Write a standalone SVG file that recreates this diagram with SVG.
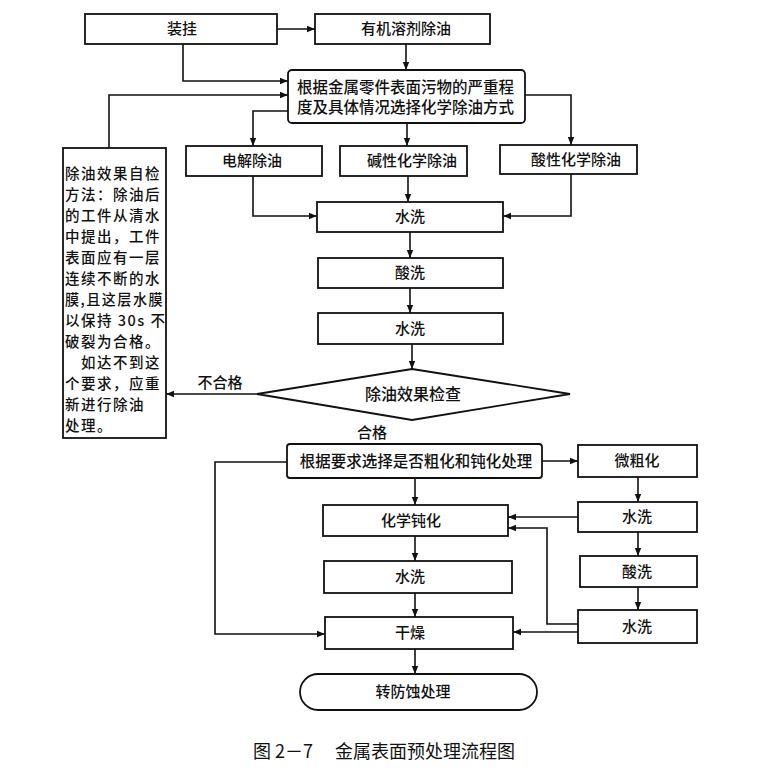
<svg xmlns="http://www.w3.org/2000/svg" width="764" height="770" viewBox="0 0 764 770">
<style>
  .box { fill: #fff; stroke: #111; stroke-width: 1.8; }
  .ln { fill: none; stroke: #111; stroke-width: 1.6; }
  .t { font-family: "Noto Sans CJK SC", "Noto Sans", sans-serif; font-size: 15px; font-weight: 500; fill: #111; text-anchor: middle; }
  .tl { font-family: "Noto Sans CJK SC", "Noto Sans", sans-serif; font-size: 15.5px; font-weight: 500; fill: #111; }
  .note { font-family: "Noto Sans CJK SC", "Noto Sans", sans-serif; font-size: 14.5px; letter-spacing: 1.5px; font-weight: 500; fill: #111; }
  .cap { font-family: "Noto Sans CJK SC", "Noto Sans", sans-serif; font-size: 18px; fill: #111; }
</style>
<defs>
  <marker id="ah" viewBox="0 0 10 10" refX="10" refY="5" markerWidth="8" markerHeight="8" markerUnits="userSpaceOnUse" orient="auto">
    <path d="M0,1 L10,5 L0,9 Z" fill="#111"/>
  </marker>
</defs>
<rect width="764" height="770" fill="#fff"/>

<g id="connectors">
  <path class="ln" marker-end="url(#ah)" d="M277,29 H315"/>
  <path class="ln" marker-end="url(#ah)" d="M183,44 V81 H288"/>
  <path class="ln" marker-end="url(#ah)" d="M406,44 V70"/>
  <path class="ln" marker-end="url(#ah)" d="M109,148 V95 H288"/>
  <path class="ln" marker-end="url(#ah)" d="M288,111 H253 V146"/>
  <path class="ln" marker-end="url(#ah)" d="M407,123 V146"/>
  <path class="ln" marker-end="url(#ah)" d="M525,95 H571 V145"/>
  <path class="ln" marker-end="url(#ah)" d="M253,176 V216 H317"/>
  <path class="ln" marker-end="url(#ah)" d="M408,176 V202"/>
  <path class="ln" marker-end="url(#ah)" d="M571,173 V216 H503"/>
  <path class="ln" marker-end="url(#ah)" d="M410,232 V258"/>
  <path class="ln" marker-end="url(#ah)" d="M410,288 V313"/>
  <path class="ln" marker-end="url(#ah)" d="M412,344 V369"/>
  <path class="ln" marker-end="url(#ah)" d="M257,394 H166"/>
  <path class="ln" marker-end="url(#ah)" d="M542,461 H578"/>
  <path class="ln" marker-end="url(#ah)" d="M287,462 H215 V634 H325"/>
  <path class="ln" marker-end="url(#ah)" d="M415,478 V505"/>
  <path class="ln" marker-end="url(#ah)" d="M638,477 V502"/>
  <path class="ln" marker-end="url(#ah)" d="M578,517 H508"/>
  <path class="ln" marker-end="url(#ah)" d="M638,532 V556"/>
  <path class="ln" marker-end="url(#ah)" d="M638,587 V610"/>
  <path class="ln" marker-end="url(#ah)" d="M578,624 H547 V528 H508"/>
  <path class="ln" marker-end="url(#ah)" d="M578,632 H513"/>
  <path class="ln" marker-end="url(#ah)" d="M415,536 V561"/>
  <path class="ln" marker-end="url(#ah)" d="M415,593 V617"/>
  <path class="ln" marker-end="url(#ah)" d="M415,649 V674"/>
  <text class="t" x="220" y="388">不合格</text>
  <text class="t" x="372" y="438">合格</text>
</g>

<g id="n-zhuanggua"><rect class="box" x="85" y="14" width="192" height="30"/><text class="t" x="182" y="34">装挂</text></g>
<g id="n-youji"><rect class="box" x="315" y="14" width="175" height="30"/><text class="t" x="406" y="34">有机溶剂除油</text></g>
<g id="n-genju1"><rect class="box" x="288" y="70" width="237" height="53" rx="4"/>
  <text class="tl" x="297" y="93">根据金属零件表面污物的严重程</text>
  <text class="tl" x="297" y="113">度及具体情况选择化学除油方式</text></g>
<g id="n-dianjie"><rect class="box" x="186" y="146" width="136" height="30"/><text class="t" x="252" y="166">电解除油</text></g>
<g id="n-jianxing"><rect class="box" x="340" y="146" width="127" height="30"/><text class="t" x="412" y="166">碱性化学除油</text></g>
<g id="n-suanxing"><rect class="box" x="500" y="145" width="137" height="29"/><text class="t" x="576" y="165">酸性化学除油</text></g>
<g id="n-shuixi1"><rect class="box" x="317" y="202" width="186" height="30"/><text class="t" x="410" y="222">水洗</text></g>
<g id="n-suanxi1"><rect class="box" x="318" y="258" width="185" height="30"/><text class="t" x="410" y="278">酸洗</text></g>
<g id="n-shuixi2"><rect class="box" x="318" y="313" width="185" height="31"/><text class="t" x="410" y="334">水洗</text></g>
<g id="n-jiancha"><polygon class="box" points="412,369 570,394 412,420 257,394"/><text class="t" x="413" y="400" style="font-size:16px">除油效果检查</text></g>
<g id="n-note"><rect class="box" x="63" y="148" width="103" height="290"/>
  <text class="note" x="65" y="179">除油效果自检</text>
  <text class="note" x="65" y="200">方法：除油后</text>
  <text class="note" x="65" y="221">的工件从清水</text>
  <text class="note" x="65" y="242">中提出，工件</text>
  <text class="note" x="65" y="263">表面应有一层</text>
  <text class="note" x="65" y="284">连续不断的水</text>
  <text class="note" x="65" y="305" textLength="99" lengthAdjust="spacingAndGlyphs">膜,且这层水膜</text>
  <text class="note" x="65" y="326">以保持 30s 不</text>
  <text class="note" x="65" y="347">破裂为合格。</text>
  <text class="note" x="81" y="368">如达不到这</text>
  <text class="note" x="65" y="389">个要求，应重</text>
  <text class="note" x="65" y="410">新进行除油</text>
  <text class="note" x="65" y="431">处理。</text></g>
<g id="n-genju2"><rect class="box" x="287" y="444" width="255" height="34" rx="3"/><text class="t" x="416" y="467" style="font-size:15.5px">根据要求选择是否粗化和钝化处理</text></g>
<g id="n-weicuhua"><rect class="box" x="578" y="445" width="119" height="32"/><text class="t" x="637" y="466">微粗化</text></g>
<g id="n-shuixiR"><rect class="box" x="578" y="502" width="119" height="30"/><text class="t" x="637" y="522">水洗</text></g>
<g id="n-suanxiR"><rect class="box" x="580" y="556" width="117" height="31"/><text class="t" x="637" y="577">酸洗</text></g>
<g id="n-shuixiBR"><rect class="box" x="578" y="610" width="119" height="33"/><text class="t" x="637" y="632">水洗</text></g>
<g id="n-dunhua"><rect class="box" x="323" y="505" width="185" height="31"/><text class="t" x="411" y="526">化学钝化</text></g>
<g id="n-shuixiM"><rect class="box" x="324" y="561" width="188" height="32"/><text class="t" x="410" y="582">水洗</text></g>
<g id="n-ganzao"><rect class="box" x="325" y="617" width="188" height="32"/><text class="t" x="410" y="638">干燥</text></g>
<g id="n-zhuan"><rect class="box" x="300" y="674" width="237" height="36" rx="18" ry="18"/><text class="t" x="413" y="697">转防蚀处理</text></g>

<text class="cap" x="253" y="758">图 2－7</text>
<text class="cap" x="335" y="758">金属表面预处理流程图</text>
</svg>
